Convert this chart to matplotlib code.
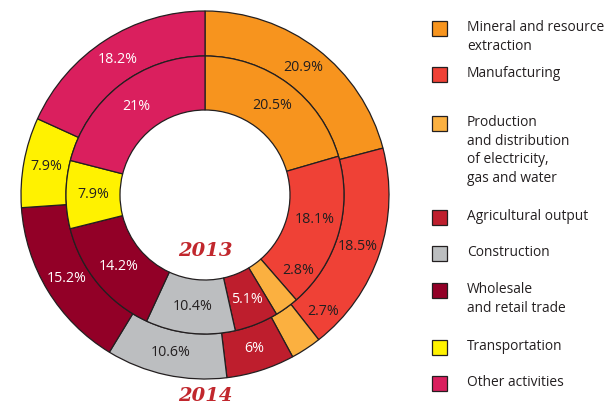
import matplotlib
matplotlib.use("Agg")
import matplotlib.pyplot as plt
from matplotlib.patches import Rectangle
import numpy as np

categories = ["Mineral and resource\nextraction", "Manufacturing",
              "Production\nand distribution\nof electricity,\ngas and water",
              "Agricultural output", "Construction",
              "Wholesale\nand retail trade", "Transportation", "Other activities"]
values_2014 = [20.9, 18.5, 2.7, 6, 10.6, 15.2, 7.9, 18.2]
values_2013 = [20.5, 18.1, 2.8, 5.1, 10.4, 14.2, 7.9, 21]
labels_2014 = ["20.9%", "18.5%", "2.7%", "6%", "10.6%", "15.2%", "7.9%", "18.2%"]
labels_2013 = ["20.5%", "18.1%", "2.8%", "5.1%", "10.4%", "14.2%", "7.9%", "21%"]
colors = ["#F7941E", "#EF4136", "#FBB040", "#BE1E2D", "#BCBEC0", "#920027", "#FFF200", "#DA1F5E"]
text_colors = ["#231F20", "#231F20", "#231F20", "white", "#231F20", "white", "#231F20", "white"]

plt.rcParams['font.family'] = ['Open Sans', 'DejaVu Sans']

W, H = 610, 407
fig = plt.figure(figsize=(W / 100, H / 100), dpi=100)
ax = fig.add_axes([0, 0, 1, 1])
ax.set_xlim(0, W)
ax.set_ylim(0, H)
ax.set_aspect('equal')
ax.set_axis_off()

cx, cy = 205, H - 195
R_out, R_mid, R_in = 184, 139, 85
ep = dict(edgecolor="#231F20", linewidth=0.9)

w_out, _ = ax.pie(values_2014, colors=colors, startangle=90, counterclock=False,
                  radius=R_out, center=(cx, cy), normalize=True,
                  wedgeprops=dict(width=R_out - R_mid, **ep))
w_in, _ = ax.pie(values_2013, colors=colors, startangle=90, counterclock=False,
                 radius=R_mid, center=(cx, cy), normalize=True,
                 wedgeprops=dict(width=R_mid - R_in, **ep))
ax.set_xlim(0, W)
ax.set_ylim(0, H)

# label angular offsets (degrees) for thin slices whose labels sit beside them
off_out = {2: 12}
off_in = {2: 15, 1: 4}
r_out_lab = {2: 166}
r_in_lab = {2: 120}

lab_fs = 10.3
for i, w in enumerate(w_out):
    a = np.deg2rad((w.theta1 + w.theta2) / 2 + off_out.get(i, 0))
    r = r_out_lab.get(i, (R_out + R_mid) / 2)
    ax.text(cx + r * np.cos(a), cy + r * np.sin(a), labels_2014[i], ha='center', va='center',
            fontsize=lab_fs, color=text_colors[i])
for i, w in enumerate(w_in):
    a = np.deg2rad((w.theta1 + w.theta2) / 2 + off_in.get(i, 0))
    r = r_in_lab.get(i, (R_mid + R_in) / 2)
    ax.text(cx + r * np.cos(a), cy + r * np.sin(a), labels_2013[i], ha='center', va='center',
            fontsize=lab_fs, color=text_colors[i])

ax.text(cx, H - 251, "2013", ha='center', va='center', fontsize=14, color="#C1272D",
        family='DejaVu Serif', weight='bold', style='italic')
ax.text(cx, H - 396, "2014", ha='center', va='center', fontsize=14, color="#C1272D",
        family='DejaVu Serif', weight='bold', style='italic')

# legend
leg_tops = [21, 67, 116, 210, 246, 283, 340, 376]
for i, cat in enumerate(categories):
    t = leg_tops[i]
    ax.add_patch(Rectangle((432, H - t - 15), 15, 15, facecolor=colors[i],
                           edgecolor="#231F20", linewidth=0.9))
    ax.text(467, H - t + 1, cat, ha='left', va='top', fontsize=9.9, color="#231F20",
            linespacing=1.33)

fig.savefig("out.png", dpi=100)
